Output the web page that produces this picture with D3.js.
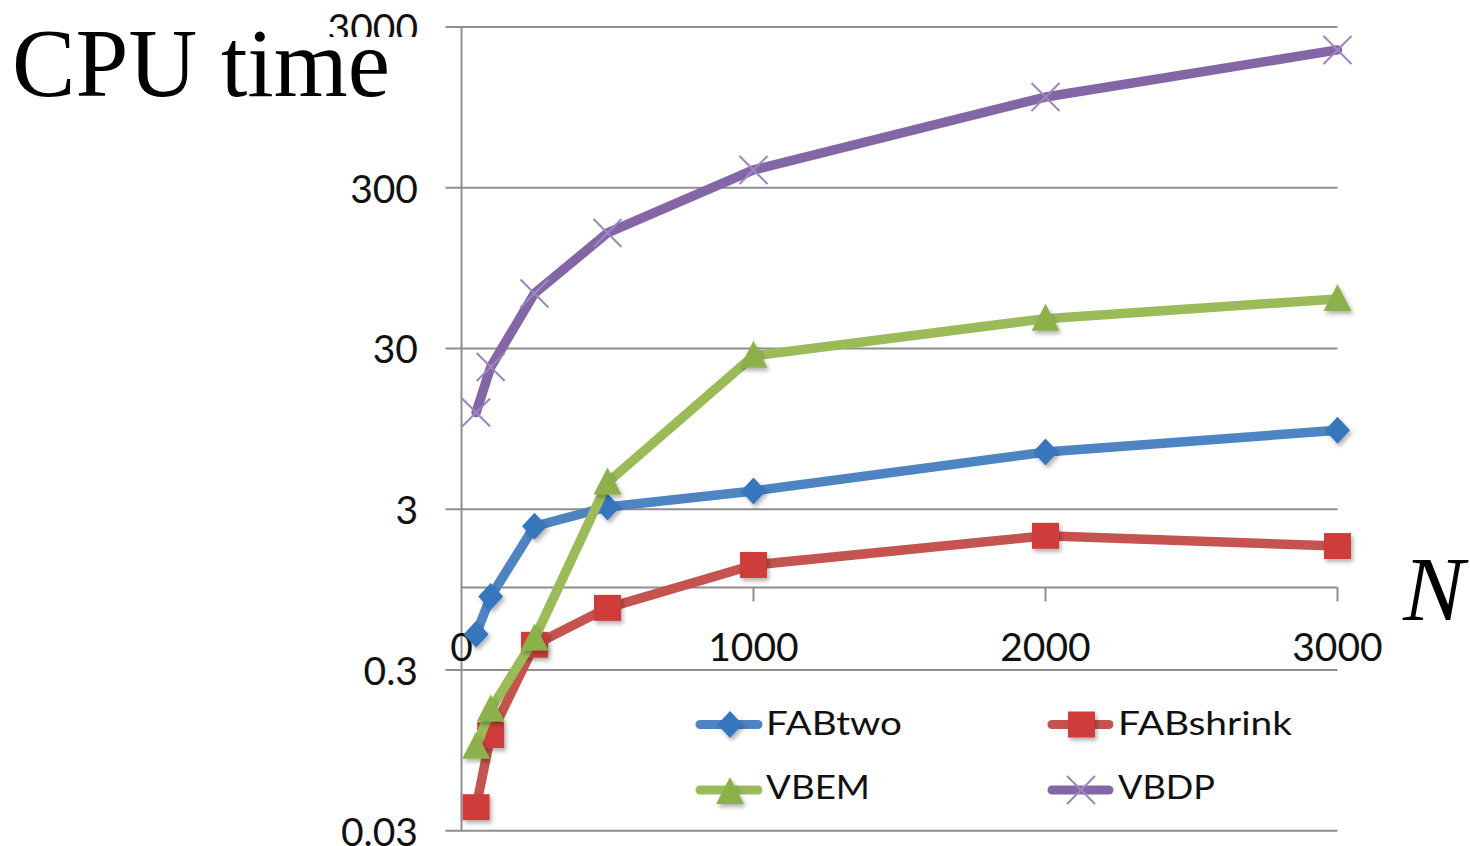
<!DOCTYPE html>
<html>
<head>
<meta charset="utf-8">
<script src="https://cdn.jsdelivr.net/npm/d3@7"></script>
<style>
  html, body { margin: 0; padding: 0; background: #fff; }
  svg { display: block; }
</style>
</head>
<body>
<svg id="chart" width="1470" height="846"></svg>
<script>
// ---- data ----
const N = [50, 100, 250, 500, 1000, 2000, 3000];
const FABtwo    = [0.5, 0.86, 2.35, 3.1, 3.9, 6.8, 9.3];
const FABshrink = [0.042, 0.118, 0.43, 0.73, 1.35, 2.05, 1.77];
const VBEM      = [0.10, 0.17, 0.47, 4.4, 27, 46, 61];
const VBDP      = [12, 23, 66, 157, 387, 1100, 2160];
const seriesNames = ["FABtwo", "FABshrink", "VBEM", "VBDP"];
const yTicks = [0.03, 0.3, 3, 30, 300, 3000];
const yTickLabels = ["0.03", "0.3", "3", "30", "300", "3000"];
const xTicks = [0, 1000, 2000, 3000];
const xTickLabels = ["0", "1000", "2000", "3000"];

const seriesValues = [FABtwo, FABshrink, VBEM, VBDP];
const styles = {
  FABtwo:    { line: "#4f84c2", mark: "#3576bd", shape: "diamond" },
  FABshrink: { line: "#c55350", mark: "#cf3d3a", shape: "square" },
  VBEM:      { line: "#9bbb59", mark: "#8cb14c", shape: "triangle" },
  VBDP:      { line: "#8466a6", mark: "#9c86c0", shape: "x" }
};

const svg = d3.select("#chart");
const defs = svg.append("defs");
const f = defs.append("filter").attr("id", "shadow").attr("x", "-50%").attr("y", "-50%").attr("width", "200%").attr("height", "200%");
f.append("feDropShadow").attr("dx", 2).attr("dy", 3).attr("stdDeviation", 2).attr("flood-color", "#000").attr("flood-opacity", 0.3);

const x = d3.scaleLinear().domain([0, 3000]).range([461.5, 1337.5]);
const y = d3.scaleLog().domain([0.03, 3000]).range([830.7, 27]);

const gridColor = "#8e8e8e";

// gridlines + y ticks
svg.append("g").selectAll("line").data(yTicks).join("line")
  .attr("x1", x(0) - 16).attr("x2", x(3000))
  .attr("y1", d => y(d)).attr("y2", d => y(d))
  .attr("stroke", gridColor).attr("stroke-width", 2);

// y axis
svg.append("line").attr("x1", x(0)).attr("x2", x(0))
  .attr("y1", y(3000)).attr("y2", y(0.03))
  .attr("stroke", gridColor).attr("stroke-width", 2);

// x axis at y = 1
const xAxisY = y(1) + 1.5;
svg.append("line").attr("x1", x(0)).attr("x2", x(3000))
  .attr("y1", xAxisY).attr("y2", xAxisY)
  .attr("stroke", gridColor).attr("stroke-width", 2);
svg.append("g").selectAll("line").data(xTicks.filter(d => d > 0)).join("line")
  .attr("x1", d => x(d)).attr("x2", d => x(d))
  .attr("y1", xAxisY).attr("y2", xAxisY + 14)
  .attr("stroke", gridColor).attr("stroke-width", 2);

const labelFont = "Lato, 'Open Sans', sans-serif";

// y tick labels
svg.append("g").selectAll("text").data(yTicks).join("text")
  .attr("x", 418).attr("y", d => y(d))
  .attr("text-anchor", "end").attr("dominant-baseline", "central")
  .attr("font-family", labelFont).attr("font-size", 39).attr("fill", "#111")
  .text((d, i) => yTickLabels[i]);

// x tick labels
svg.append("g").selectAll("text").data(xTicks).join("text")
  .attr("x", d => x(d)).attr("y", 646)
  .attr("text-anchor", "middle").attr("dominant-baseline", "central")
  .attr("font-family", labelFont).attr("font-size", 39).attr("fill", "#111")
  .text((d, i) => xTickLabels[i]);

// CPU time label with white backing (covers lower part of top tick label)
svg.append("rect").attr("x", 0).attr("y", 37).attr("width", 438).attr("height", 80).attr("fill", "#fff");
svg.append("text").attr("x", 12).attr("y", 96)
  .attr("font-family", "'Liberation Serif', 'DejaVu Serif', serif").attr("font-size", 97)
  .attr("textLength", 378).attr("lengthAdjust", "spacingAndGlyphs")
  .attr("fill", "#000").text("CPU time");
svg.append("text").attr("x", 1403).attr("y", 620)
  .attr("font-family", "'Liberation Serif', 'DejaVu Serif', serif").attr("font-size", 92)
  .attr("font-style", "italic").attr("fill", "#000").text("N");

// marker drawing
function drawMarker(g, shape, color, cx, cy, scale = 1) {
  const s = scale;
  if (shape === "diamond") {
    g.append("path").attr("d", `M${cx},${cy - 13.5 * s} L${cx + 12.5 * s},${cy} L${cx},${cy + 13.5 * s} L${cx - 12.5 * s},${cy} Z`)
      .attr("fill", color).attr("filter", "url(#shadow)");
  } else if (shape === "square") {
    g.append("rect").attr("x", cx - 13.5 * s).attr("y", cy - 13 * s).attr("width", 27 * s).attr("height", 26 * s)
      .attr("fill", color).attr("filter", "url(#shadow)");
  } else if (shape === "triangle") {
    g.append("path").attr("d", `M${cx},${cy - 15 * s} L${cx + 14 * s},${cy + 12 * s} L${cx - 14 * s},${cy + 12 * s} Z`)
      .attr("fill", color).attr("filter", "url(#shadow)");
  } else if (shape === "x") {
    const r = 14 * s;
    g.append("path").attr("d", `M${cx - r},${cy - r} L${cx + r},${cy + r} M${cx - r},${cy + r} L${cx + r},${cy - r}`)
      .attr("stroke", color).attr("stroke-width", 2).attr("fill", "none");
  }
}

// series lines and markers
const line = d3.line().x(d => x(d[0])).y(d => y(d[1]));
seriesNames.forEach((name, i) => {
  const st = styles[name];
  const pts = N.map((n, j) => [n, seriesValues[i][j]]);
  const g = svg.append("g");
  g.append("path").datum(pts).attr("d", line)
    .attr("fill", "none").attr("stroke", st.line).attr("stroke-width", 9.5)
    .attr("stroke-linejoin", "round").attr("stroke-linecap", "round");
  pts.forEach(p => drawMarker(g, st.shape, st.mark, x(p[0]), y(p[1])));
});

// legend
const legendItems = [
  { name: "FABtwo", lx1: 696, lx2: 762, ly: 724.5, mx: 730, tx: 766, ty: 735, tl: 136 },
  { name: "FABshrink", lx1: 1048, lx2: 1113, ly: 724.5, mx: 1081.5, tx: 1118, ty: 735, tl: 174 },
  { name: "VBEM", lx1: 696, lx2: 762, ly: 790, mx: 730, tx: 766, ty: 798.5, tl: 104 },
  { name: "VBDP", lx1: 1048, lx2: 1113, ly: 790, mx: 1081, tx: 1118, ty: 798.5, tl: 97 }
];
const lg = svg.append("g");
legendItems.forEach(it => {
  const st = styles[it.name];
  lg.append("line").attr("x1", it.lx1 + 4).attr("x2", it.lx2 - 4).attr("y1", it.ly).attr("y2", it.ly)
    .attr("stroke", st.line).attr("stroke-width", 9).attr("stroke-linecap", "round");
  drawMarker(lg, st.shape, st.mark, it.mx, it.ly + (st.shape === "triangle" ? 2 : 0));
  lg.append("text").attr("x", it.tx).attr("y", it.ty)
    .attr("font-family", labelFont).attr("font-size", 32).attr("fill", "#111")
    .attr("textLength", it.tl).attr("lengthAdjust", "spacingAndGlyphs")
    .text(it.name);
});
</script>
</body>
</html>
